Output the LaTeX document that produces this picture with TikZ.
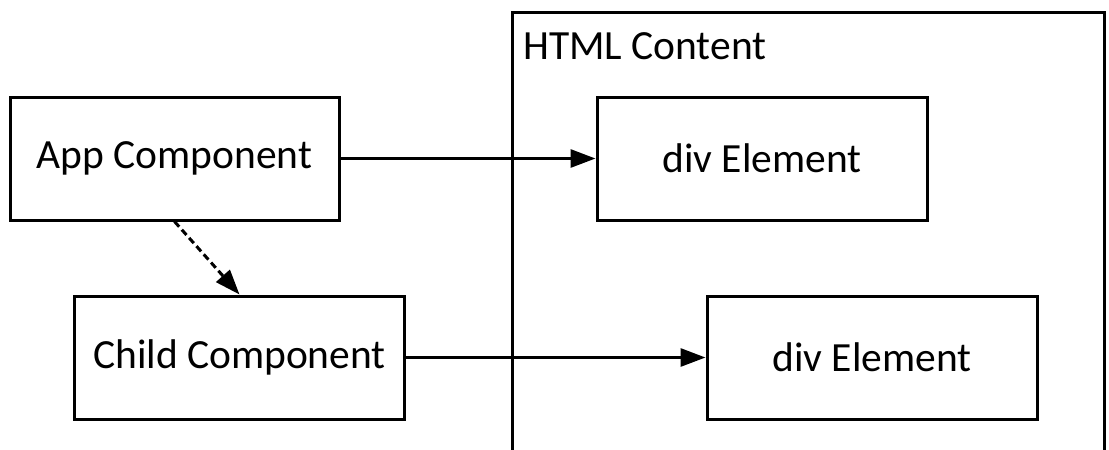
\documentclass[tikz,border=0pt]{standalone}
\usepackage{fontspec}
\setmainfont{Carlito}
\usetikzlibrary{arrows.meta}
\begin{document}
\begin{tikzpicture}[x=1pt,y=-1pt,
  box/.style={draw=black,line width=3pt,inner sep=0pt,font=\fontsize{41.5}{50}\selectfont},
  conn/.style={line width=3pt,-{Triangle[length=25pt,width=18pt]}},
  dashconn/.style={conn,dash pattern=on 7pt off 4pt}]
\useasboundingbox (0,0) rectangle (1109,450);
\fill[white] (0,0) rectangle (1109,450);
% container
\coordinate (cbl) at (512,470);
\coordinate (ctl) at (512,12.5);
\coordinate (ctr) at (1104.5,12.5);
\coordinate (cbr) at (1104.5,470);
\draw[line width=3pt] (cbl) -- (ctl) -- (ctr) -- (cbr);
\node[anchor=base west,inner sep=0pt,font=\fontsize{41.5}{50}\selectfont] (title) at (523,59) {HTML Content};
% boxes
\node[box,minimum width=329pt,minimum height=123pt] (app) at (174.5,158.5) {App Component};
\node[box,minimum width=330pt,minimum height=123pt] (child) at (239.5,357.5) {Child Component};
\node[box,minimum width=330pt,minimum height=123pt] (div1) at (762,158.5) {div Element};
\node[box,minimum width=330pt,minimum height=123pt] (div2) at (872,357.5) {div Element};
% connectors
\draw[conn] (app.east) -- (div1.west);
\draw[conn] (child.east) -- (div2.west);
\draw[dashconn] (app.south) -- (child.north);
\end{tikzpicture}
\end{document}
